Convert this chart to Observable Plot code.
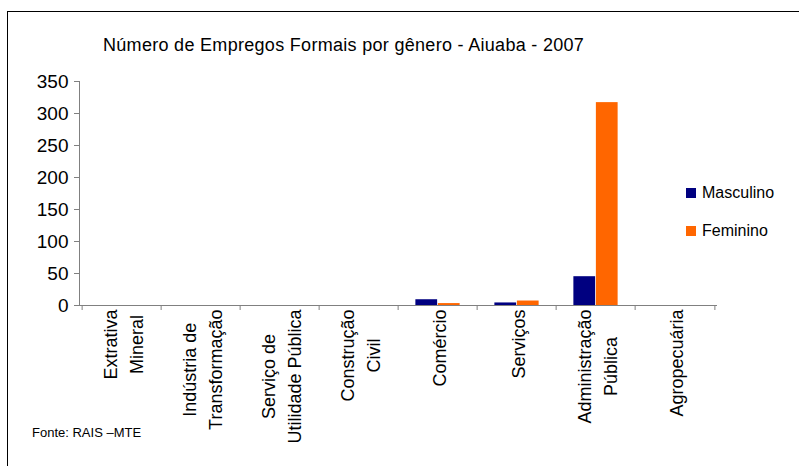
<!DOCTYPE html>
<html>
<head>
<meta charset="utf-8">
<script src="https://cdn.jsdelivr.net/npm/d3@7"></script>
<script src="https://cdn.jsdelivr.net/npm/@observablehq/plot@0.6"></script>
<style>
  html, body { margin: 0; padding: 0; background: #fff; }
  #wrap { position: relative; width: 799px; height: 466px; overflow: hidden; font-family: "Liberation Sans", Arial, sans-serif; }
  #border { position: absolute; left: 7px; top: 11px; width: 900px; height: 600px; border-left: 1.5px solid #000; border-top: 1.5px solid #000; }
  #title { position: absolute; left: 103px; top: 35px; font-size: 18px; letter-spacing: 0.3px; color: #000; white-space: nowrap; }
  .leg { position: absolute; left: 686px; font-size: 16px; color: #000; white-space: nowrap; display: flex; align-items: center; }
  .sw { display: inline-block; width: 10px; height: 10px; margin-right: 6px; }
  #foot { position: absolute; left: 32px; top: 425px; font-size: 13px; color: #000; white-space: nowrap; }
  #chart { position: absolute; left: 0; top: 0; }
</style>
</head>
<body>
<div id="wrap">
  <div id="chart"></div>
  <div id="border"></div>
  <div id="title"></div>
  <div id="legend"></div>
  <div id="foot"></div>
</div>
<script>
const titleText = "Número de Empregos Formais por gênero - Aiuaba - 2007";
const sourceText = "Fonte: RAIS –MTE";
const categories = [
  "Extrativa\nMineral",
  "Indústria de\nTransformação",
  "Serviço de\nUtilidade Pública",
  "Construção\nCivil",
  "Comércio",
  "Serviços",
  "Administração\nPública",
  "Agropecuária"
];
const series = ["Masculino", "Feminino"];
const seriesColors = ["#000080", "#FF6600"];
const masculino = [0, 0, 0, 0, 9, 4, 45, 0];
const feminino  = [0, 0, 0, 0, 3, 7, 317, 0];
const yTicks = [0, 50, 100, 150, 200, 250, 300, 350];

const W = 799, H = 466;
const mL = 79, mR = 82, mT = 81, mB = 161;
const bw = (W - mL - mR) / categories.length;
const barW = 22.5;
const labelFont = 18;
const fontFamily = "Liberation Sans, Arial, sans-serif";

const rows = [];
categories.forEach((c, i) => {
  rows.push({cat: c, g: series[0], v: masculino[i]});
  rows.push({cat: c, g: series[1], v: feminino[i]});
});

// measure longest line of each label to center the lines as a block below the axis
const ctx = document.createElement("canvas").getContext("2d");
ctx.font = `${labelFont}px "Liberation Sans"`;
const labelMarks = categories.map(c => {
  const maxW = d3.max(c.split("\n"), s => ctx.measureText(s).width);
  return Plot.text([c], {
    x: d => d, frameAnchor: "bottom", text: d => d,
    rotate: -90, textAnchor: "middle", lineAnchor: "middle", lineHeight: 1.4,
    dy: 4 + maxW / 2, fontSize: labelFont, fill: "#000"
  });
});

const chart = Plot.plot({
  width: W, height: H,
  marginLeft: mL, marginRight: mR, marginTop: mT, marginBottom: mB,
  style: {fontFamily, background: "transparent", overflow: "visible"},
  x: {domain: categories, padding: 0, axis: null},
  y: {domain: [0, 350], axis: null},
  marks: [
    Plot.barY(rows.filter(d => d.g === series[0]), {
      x: "cat", y: "v", fill: seriesColors[0],
      insetLeft: bw / 2 - barW, insetRight: bw / 2
    }),
    Plot.barY(rows.filter(d => d.g === series[1]), {
      x: "cat", y: "v", fill: seriesColors[1],
      insetLeft: bw / 2, insetRight: bw / 2 - barW
    }),
    Plot.axisY({ticks: yTicks, label: null, tickSize: 5, tickPadding: 6, fontSize: 19, stroke: "#808080", fill: "#000", tickFormat: d => String(d)}),
    Plot.frame({anchor: "left", stroke: "#808080"}),
    Plot.ruleY([0], {stroke: "#808080"}),
    Plot.axisX({ticks: categories, label: null, tickSize: 5, tickFormat: () => "", stroke: "#808080", dx: -bw / 2}),
    Plot.axisX({ticks: categories.slice(-1), label: null, tickSize: 5, tickFormat: () => "", stroke: "#808080", dx: bw / 2}),
    ...labelMarks
  ]
});
document.getElementById("chart").appendChild(chart);

document.getElementById("title").textContent = titleText;
document.getElementById("foot").textContent = sourceText;
const legendTops = [184, 222];
const leg = document.getElementById("legend");
series.forEach((s, i) => {
  const d = document.createElement("div");
  d.className = "leg";
  d.style.top = legendTops[i] + "px";
  d.innerHTML = `<span class="sw" style="background:${seriesColors[i]}"></span><span>${s}</span>`;
  leg.appendChild(d);
});
</script>
</body>
</html>
